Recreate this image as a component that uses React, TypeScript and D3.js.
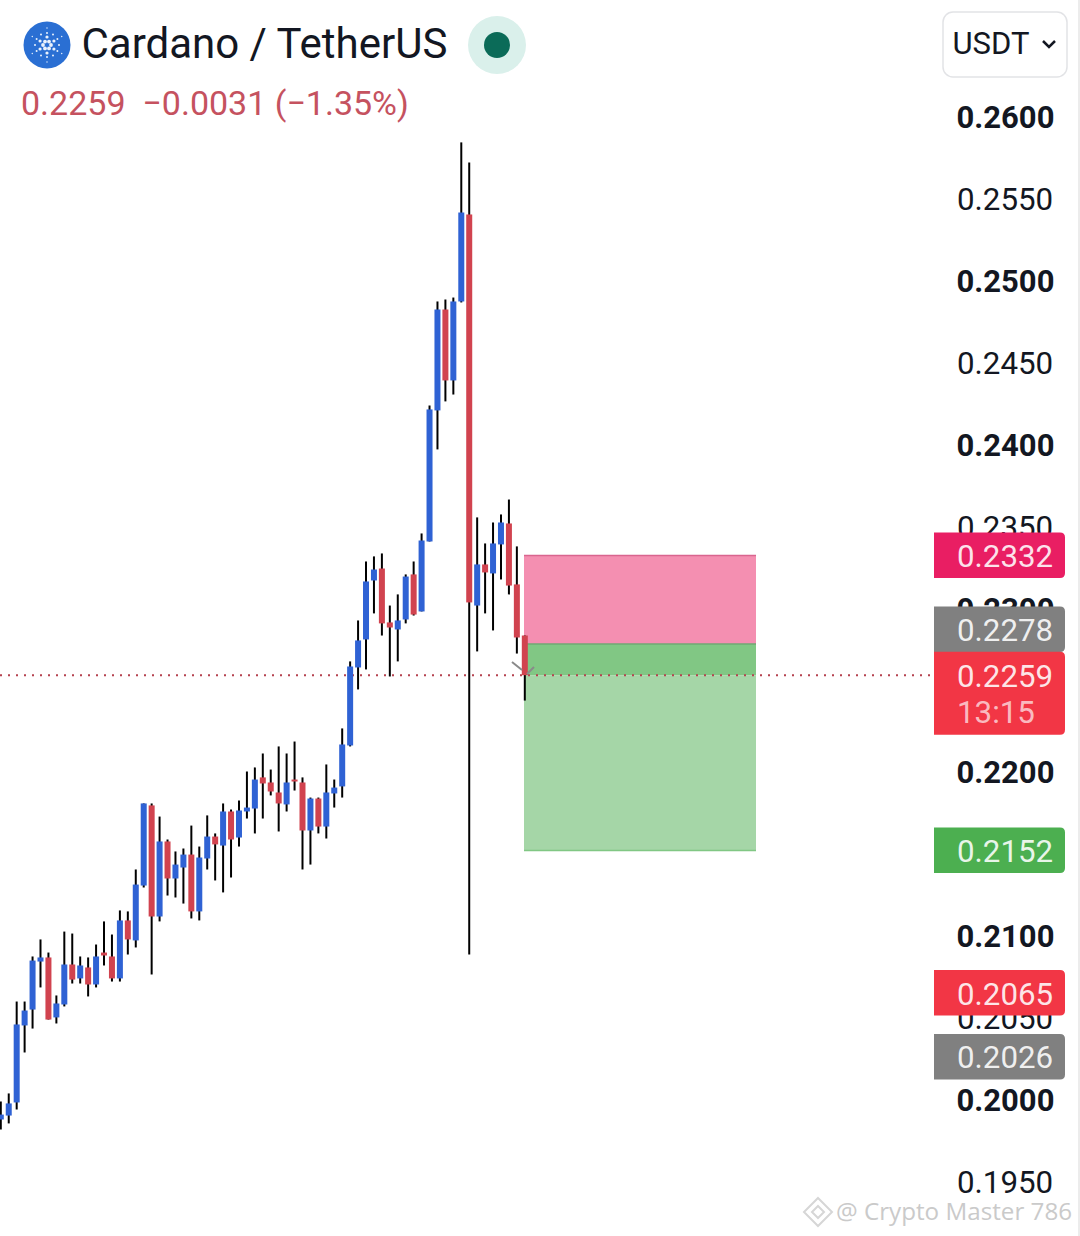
import * as d3 from 'd3'

const opens = [
  0.19878, 0.19902, 0.19982, 0.20452, 0.20549, 0.20842, 0.20867, 0.20501, 0.2058, 0.20824,
  0.20739, 0.20806, 0.20702, 0.20897, 0.20873, 0.20739, 0.21093, 0.20971, 0.21306, 0.21795,
  0.21117, 0.21575, 0.21349, 0.21416, 0.21495, 0.21148, 0.21471, 0.21605, 0.2155, 0.21758,
  0.21599, 0.21758, 0.21776, 0.21966, 0.21935, 0.21874, 0.21801, 0.21953, 0.21935, 0.21642,
  0.21837, 0.21666, 0.21868, 0.21911, 0.22161, 0.22637, 0.22808, 0.23168, 0.23241, 0.22912,
  0.22869, 0.2293, 0.23205, 0.22979, 0.23406, 0.24206, 0.24822, 0.24389, 0.24871, 0.25402,
  0.23015, 0.23266, 0.23211, 0.23388, 0.23516, 0.23144, 0.22832
]
const closes = [
  0.19908, 0.19976, 0.20458, 0.20543, 0.20848, 0.20867, 0.20488, 0.20586, 0.20824, 0.20732,
  0.20818, 0.20702, 0.20873, 0.20879, 0.20739, 0.21093, 0.20977, 0.21312, 0.21807, 0.21117,
  0.21575, 0.21349, 0.21434, 0.21495, 0.21148, 0.21477, 0.21605, 0.21557, 0.21758, 0.21587,
  0.21764, 0.21782, 0.21953, 0.21929, 0.2188, 0.21807, 0.21935, 0.21941, 0.21642, 0.21837,
  0.21666, 0.21874, 0.21904, 0.22167, 0.22643, 0.22802, 0.23162, 0.23235, 0.22906, 0.22881,
  0.22924, 0.23192, 0.2296, 0.23412, 0.24212, 0.24822, 0.24389, 0.24871, 0.25414, 0.23034,
  0.23266, 0.23217, 0.23394, 0.23522, 0.23137, 0.2282, 0.2259
]
const highs = [
  0.19988, 0.20037, 0.20598, 0.20598, 0.20873, 0.20977, 0.20897, 0.20635, 0.21025, 0.21013,
  0.20873, 0.20867, 0.20946, 0.21087, 0.21007, 0.21154, 0.21148, 0.21404, 0.21807, 0.21807,
  0.21727, 0.21587, 0.21514, 0.21532, 0.21672, 0.21544, 0.21734, 0.21624, 0.21807, 0.2177,
  0.21825, 0.22002, 0.22027, 0.22112, 0.22014, 0.22155, 0.22112, 0.22185, 0.21966, 0.21843,
  0.21843, 0.22045, 0.21953, 0.22265, 0.22674, 0.22924, 0.23284, 0.23315, 0.23333, 0.23015,
  0.23083, 0.23205, 0.23284, 0.23455, 0.24236, 0.24871, 0.24883, 0.24895, 0.25842, 0.25719,
  0.23553, 0.23394, 0.23522, 0.23571, 0.23662, 0.23376, 0.22832
]
const lows = [
  0.19817, 0.19854, 0.19939, 0.20287, 0.20433, 0.20684, 0.20488, 0.20464, 0.20568, 0.20708,
  0.20708, 0.20629, 0.20684, 0.20818, 0.2072, 0.2072, 0.20885, 0.20928, 0.21294, 0.20763,
  0.21087, 0.21245, 0.21233, 0.21196, 0.21105, 0.21093, 0.21404, 0.21337, 0.21264, 0.21355,
  0.21544, 0.21715, 0.21624, 0.21715, 0.21856, 0.21636, 0.21758, 0.21886, 0.21404, 0.21434,
  0.21624, 0.21593, 0.21782, 0.21843, 0.22155, 0.22503, 0.22625, 0.22967, 0.22832, 0.22582,
  0.22674, 0.22906, 0.22954, 0.22979, 0.23406, 0.23968, 0.24261, 0.24303, 0.24865, 0.20885,
  0.22735, 0.22967, 0.22863, 0.23174, 0.23083, 0.22722, 0.22435
]

const tickValues = [0.26, 0.255, 0.25, 0.245, 0.24, 0.235, 0.23, 0.225, 0.22, 0.215, 0.21, 0.205, 0.2, 0.195]
const boldTicks = [0.26, 0.25, 0.24, 0.23, 0.22, 0.21, 0.2]

const stopPrice = 0.2332
const entryPrice = 0.2278
const lastPrice = 0.2259
const targetPrice = 0.2152

// price tags on the right
const tagValues = ['0.2332', '0.2278', '0.2259', '0.2152', '0.2065', '0.2026']
const tagPrices = [0.2332, 0.2278, 0.2259, 0.2152, 0.2065, 0.2026]
const tagColors = ['#e91e63', '#808080', '#f23645', '#4caf50', '#f23645', '#808080']

const WIDTH = 1080
const HEIGHT = 1236
const FONT = 'Roboto, sans-serif'

const y = d3.scaleLinear().domain([0.2, 0.26]).range([1099.5, 116.5])
const x = d3.scaleLinear().domain([0, opens.length - 1]).range([0.8, 524.8])

const UP = '#2f62d4'
const DOWN = '#d1434f'

// rectangle with only the right corners rounded
const tagPath = (top: number, bottom: number) => {
  const l = 934
  const r = 1065
  const c = 5
  return `M${l},${top}H${r - c}Q${r},${top} ${r},${top + c}V${bottom - c}Q${r},${bottom} ${r - c},${bottom}H${l}Z`
}

function AdaLogo() {
  const rings = [
    { n: 6, r: 4, s: 1.9, o: 0 },
    { n: 6, r: 8, s: 1.6, o: Math.PI / 6 },
    { n: 12, r: 12, s: 1, o: 0 },
    { n: 6, r: 17, s: 0.7, o: Math.PI / 6 }
  ]
  return (
    <g>
      <circle cx={47} cy={45} r={23.5} fill="#2a6fd3" />
      {rings.flatMap((ring, k) =>
        d3.range(ring.n).map(i => {
          const a = ring.o + (i * 2 * Math.PI) / ring.n
          return (
            <circle
              key={`${k}-${i}`}
              cx={47 + ring.r * Math.cos(a)}
              cy={45 + ring.r * Math.sin(a)}
              r={ring.s}
              fill="#eaf2fc"
            />
          )
        })
      )}
    </g>
  )
}

export default function App() {
  const bodyW = 6
  const boxL = 524
  const boxR = 756

  return (
    <svg
      width={WIDTH}
      height={HEIGHT}
      viewBox={`0 0 ${WIDTH} ${HEIGHT}`}
      style={{ position: 'absolute', left: 0, top: 0, background: '#fff' }}
      fontFamily={FONT}
    >
      {/* header */}
      <AdaLogo />
      <text x={81.5} y={58} fontSize={42} fill="#131722">Cardano / TetherUS</text>
      <text x={21} y={115} fontSize={34} fill="#c5525f" xmlSpace="preserve">
        {'0.2259  −0.0031 (−1.35%)'}
      </text>
      <circle cx={497} cy={45} r={29} fill="#daf0eb" />
      <circle cx={497} cy={45} r={13} fill="#0b6b58" />
      <rect x={943} y={12} width={124} height={65} rx={10} fill="#fff" stroke="#e2e3e6" strokeWidth={1.5} />
      <text x={952.5} y={54} fontSize={31} fill="#131722">USDT</text>
      <path d="M1043,41l6,6l6,-6" fill="none" stroke="#131722" strokeWidth={2.5} />

      {/* position boxes */}
      <rect x={boxL} y={y(stopPrice)} width={boxR - boxL} height={y(entryPrice) - y(stopPrice)} fill="#f48fb1" />
      <rect x={boxL} y={y(entryPrice)} width={boxR - boxL} height={y(lastPrice) - y(entryPrice)} fill="#81c784" />
      <rect x={boxL} y={y(lastPrice)} width={boxR - boxL} height={y(targetPrice) - y(lastPrice)} fill="#a5d6a7" />
      <line x1={boxL} x2={boxR} y1={y(stopPrice)} y2={y(stopPrice)} stroke="#d9668f" strokeWidth={1.5} />
      <line x1={boxL} x2={boxR} y1={y(entryPrice)} y2={y(entryPrice)} stroke="#6fa873" strokeWidth={1.5} />
      <line x1={boxL} x2={boxR} y1={y(targetPrice)} y2={y(targetPrice)} stroke="#81c784" strokeWidth={1.5} />

      {/* last price line */}
      <line
        x1={0}
        x2={932}
        y1={y(lastPrice)}
        y2={y(lastPrice)}
        stroke="#b5424f"
        strokeWidth={2}
        strokeDasharray="2 6"
      />

      {/* candles */}
      {opens.map((o, i) => (
        <line key={i} x1={x(i)} x2={x(i)} y1={y(highs[i])} y2={y(lows[i])} stroke="#000" strokeWidth={2} />
      ))}
      {opens.map((o, i) => {
        const c = closes[i]
        return (
          <rect
            key={i}
            x={x(i) - bodyW / 2}
            y={y(Math.max(o, c))}
            width={bodyW}
            height={Math.max(1.5, Math.abs(y(o) - y(c)))}
            fill={c >= o ? UP : DOWN}
          />
        )
      })}

      {/* marker on the last candle */}
      <path d="M512,662L522,670M527,674L534,667" fill="none" stroke="#8a8a8a" strokeWidth={2} />

      {/* price axis */}
      {tickValues.map(t => {
        const bold = boldTicks.includes(t)
        return (
          <text
            key={t}
            x={bold ? 956.5 : 957}
            y={y(t) + 11.5}
            fontSize={bold ? 31 : 31.3}
            fontWeight={bold ? 700 : 400}
            fill="#131722"
          >
            {t.toFixed(4)}
          </text>
        )
      })}

      {/* price tags, the entry tag sits pushed up above the last price tag */}
      {tagValues.map((label, i) => {
        const isLast = tagPrices[i] === lastPrice
        const shift = tagPrices[i] === entryPrice ? -14.5 : 0
        const cy = y(tagPrices[i]) + shift
        const top = isLast ? cy - 23.5 : cy - 23
        const bottom = isLast ? cy + 59.5 : cy + 22.5
        return (
          <g key={label}>
            <path d={tagPath(top, bottom)} fill={tagColors[i]} />
            <text x={957} y={cy + 11.5} fontSize={31.3} fill="#fff" fillOpacity={0.88}>{label}</text>
            {isLast && (
              <text x={957} y={cy + 48} fontSize={31.3} fill="#fff" fillOpacity={0.68}>13:15</text>
            )}
          </g>
        )
      })}

      {/* watermark */}
      <g fill="none" stroke="#d6d6d6" strokeWidth={2}>
        <path d="M818,1198L832,1212L818,1226L804,1212Z" />
        <path d="M818,1206L824,1212L818,1218L812,1212Z" />
      </g>
      <text x={836} y={1220} fontSize={24.2} fontFamily="'Open Sans', sans-serif" fill="#cacaca">
        @ Crypto Master 786
      </text>

      <line x1={1079} x2={1079} y1={0} y2={HEIGHT} stroke="#ececec" strokeWidth={2} />
    </svg>
  )
}
